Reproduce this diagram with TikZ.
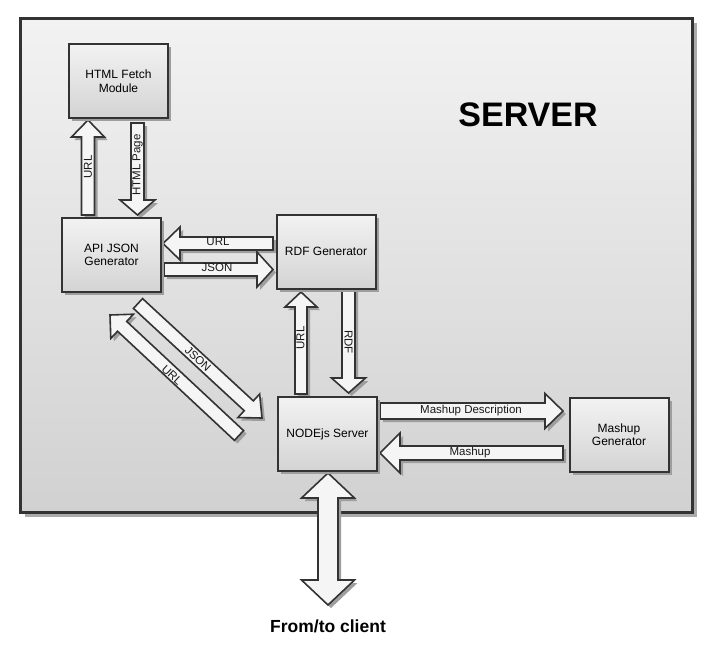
\documentclass[tikz,border=0pt]{standalone}
\usepackage{fontspec}
\setmainfont{Liberation Sans}
\usetikzlibrary{calc,shadows}

% block arrow: from, to, shaft half width, head half width, head length
\newcommand{\blockarr}[5]{%
  \coordinate (hb) at ($(#2)!#5!(#1)$);
  \path[blockarrow] ($(#1)!#3!90:(#2)$) -- ($(hb)!#3!90:(#2)$) -- ($(hb)!#4!90:(#2)$)
    -- (#2) -- ($(hb)!#4!-90:(#2)$) -- ($(hb)!#3!-90:(#2)$) -- ($(#1)!#3!-90:(#2)$) -- cycle;
}
% double headed block arrow
\newcommand{\dblarr}[5]{%
  \coordinate (hb) at ($(#2)!#5!(#1)$);
  \coordinate (ht) at ($(#1)!#5!(#2)$);
  \path[blockarrow] (#1) -- ($(ht)!#4!90:(#2)$) -- ($(ht)!#3!90:(#2)$) -- ($(hb)!#3!90:(#2)$)
    -- ($(hb)!#4!90:(#2)$) -- (#2) -- ($(hb)!#4!-90:(#2)$) -- ($(hb)!#3!-90:(#2)$)
    -- ($(ht)!#3!-90:(#2)$) -- ($(ht)!#4!-90:(#2)$) -- cycle;
}

\tikzset{
  shade3/.style={drop shadow={shadow xshift=3pt,shadow yshift=-3pt,fill=black!38,opacity=1}},
  server/.style={draw=black!80,line width=2.5pt,top color=black!5,bottom color=black!18,
    minimum width=672pt,minimum height=494pt,
    drop shadow={shadow xshift=4pt,shadow yshift=-4pt,fill=black!33,opacity=1}},
  block/.style={draw=black!80,line width=2pt,top color=black!5,bottom color=black!17,
    minimum width=99pt,minimum height=74pt,align=center,shade3,
    font=\fontsize{12}{13.5}\selectfont},
  blockarrow/.style={draw=black!80,line width=1.6pt,fill=black!4,line join=miter,shade3},
  lbl/.style={font=\fontsize{11.5}{12}\selectfont,inner sep=0pt,text=black!90},
}

\begin{document}
\begin{tikzpicture}[x=1pt,y=-1pt]
  \useasboundingbox (0,0) rectangle (713,659);
  \node[server] (server) at (356.5,265.5) {};
  \node[font=\fontsize{34}{34}\selectfont\bfseries] (title) at (528,115) {SERVER};

  % arrow ends
  \coordinate (u1s) at (88,215);    \coordinate (u1e) at (88,120);
  \coordinate (h1s) at (137.5,123); \coordinate (h1e) at (137.5,215);
  \coordinate (u2s) at (273,243.5); \coordinate (u2e) at (163,243.5);
  \coordinate (j1s) at (164,269.5); \coordinate (j1e) at (273,269.5);
  \coordinate (u3s) at (301,394);   \coordinate (u3e) at (301,292);
  \coordinate (r1s) at (348.5,289); \coordinate (r1e) at (348.5,393);
  \coordinate (m1s) at (380,411);   \coordinate (m1e) at (563,411);
  \coordinate (m2s) at (563,453);   \coordinate (m2e) at (380,453);
  \coordinate (j2s) at (138,303.5); \coordinate (j2e) at (262,418);
  \coordinate (u4s) at (239,435.5); \coordinate (u4e) at (110,315);
  \coordinate (c1s) at (328,473);   \coordinate (c1e) at (328,605);

  \blockarr{u1s}{u1e}{6.5pt}{16.5pt}{17pt}
  \blockarr{h1s}{h1e}{6.5pt}{17.5pt}{15pt}
  \blockarr{u2s}{u2e}{6.5pt}{16.5pt}{17pt}
  \blockarr{j1s}{j1e}{6.5pt}{17.5pt}{16pt}
  \blockarr{u3s}{u3e}{6pt}{16pt}{15pt}
  \blockarr{r1s}{r1e}{6.5pt}{17pt}{15pt}
  \blockarr{m1s}{m1e}{8pt}{17.5pt}{18pt}
  \blockarr{m2s}{m2e}{7pt}{20pt}{20pt}
  \blockarr{j2s}{j2e}{6.7pt}{16pt}{18pt}
  \blockarr{u4s}{u4e}{6.7pt}{16.6pt}{16.6pt}
  \dblarr{c1s}{c1e}{10pt}{26.5pt}{25pt}

  \node[lbl,rotate=90] (lu1) at (88,167) {URL};
  \node[lbl,rotate=90] (lh1) at (137.5,165) {HTML Page};
  \node[lbl] (lu2) at (218,242) {URL};
  \node[lbl] (lj1) at (217,268) {JSON};
  \node[lbl,rotate=90] (lu3) at (300.5,338) {URL};
  \node[lbl,rotate=-90] (lr1) at (348.5,342) {RDF};
  \node[lbl] (lm1) at (471,411) {Mashup Description};
  \node[lbl] (lm2) at (470,453) {Mashup};
  \node[lbl,rotate=-43] (lj2) at (198,359) {JSON};
  \node[lbl,rotate=-43] (lu4) at (172,375) {URL};

  \node[block] (fetch) at (118.5,81) {HTML Fetch\\Module};
  \node[block] (apijson) at (111.5,255) {API JSON\\Generator};
  \node[block] (rdfgen) at (326,251.5) {RDF Generator};
  \node[block] (nodejs) at (327.5,434) {NODEjs Server};
  \node[block] (mashgen) at (619,434.5) {Mashup\\Generator};

  \node[font=\fontsize{17.5}{18}\selectfont\bfseries] (client) at (328,626) {From/to client};
\end{tikzpicture}
\end{document}
